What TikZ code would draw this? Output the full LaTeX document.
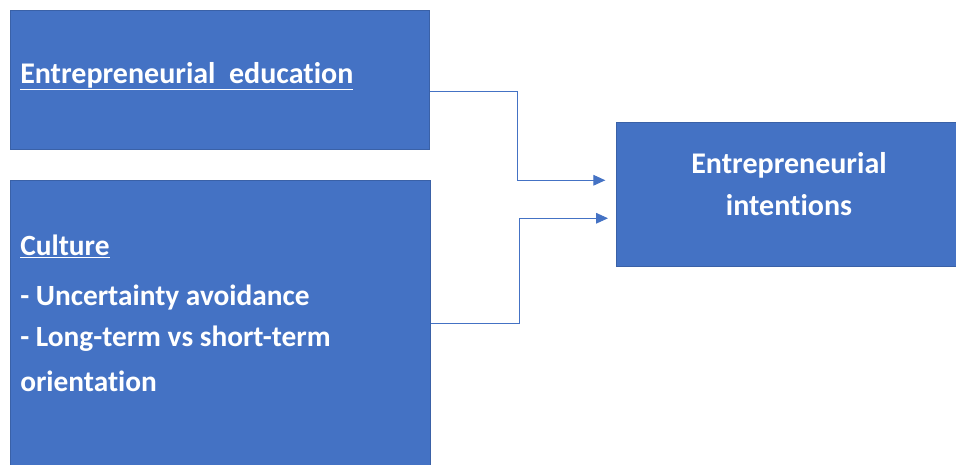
\documentclass[tikz,border=0pt]{standalone}
\usepackage{fontspec}
\setmainfont{Carlito}[Ligatures=NoCommon]
\usetikzlibrary{arrows.meta}
\definecolor{boxblue}{HTML}{4472C4}
\begin{document}
\begin{tikzpicture}[x=0.75pt,y=-0.75pt,
  box/.style={draw=boxblue!85!black,line width=0.4pt,fill=boxblue,inner sep=0pt,anchor=north west},
  lbl/.style={anchor=base west,text=white,inner sep=0pt,font=\bfseries\fontsize{22}{26}\selectfont},
  mid/.style={anchor=base,text=white,inner sep=0pt,font=\bfseries\fontsize{22.5}{27}\selectfont},
  link/.style={draw=boxblue,line width=0.8pt,-{Triangle[length=9pt,width=8pt]}}]
	\useasboundingbox (0,0) rectangle (956,464);
	% boxes
	\node[box,minimum width=314.25pt,minimum height=104.25pt] (edu) at (10,10) {};
	\node[box,minimum width=315pt,minimum height=214.5pt] (culture) at (10,180) {};
	\node[box,minimum width=256.5pt,minimum height=108pt] (intent) at (616,122) {};
	% texts
	\node[lbl,font=\bfseries\fontsize{22.5}{27}\selectfont] (edutxt) at (20,83) {\underline{Entrepreneurial\ \ education}};
	\node[lbl] (cultxt) at (20,255) {\underline{Culture}};
	\node[lbl] (uatxt) at (20,305) {- Uncertainty avoidance};
	\node[lbl] (lttxt) at (20,346) {- Long-term vs short-term};
	\node[lbl] (ortxt) at (20,391) {orientation};
	\node[mid] (inttxt) at (789,173) {Entrepreneurial};
	\node[mid] (inttxtb) at (789,215) {intentions};
	% connectors
	\draw[link] ([yshift=-8.6pt]edu.east) -- ++(88,0) |- ([xshift=-8pt,yshift=10.5pt]intent.west);
	\draw[link] (culture.east) -- ++(89,0) |- ([xshift=-6pt,yshift=-18pt]intent.west);
\end{tikzpicture}
\end{document}
